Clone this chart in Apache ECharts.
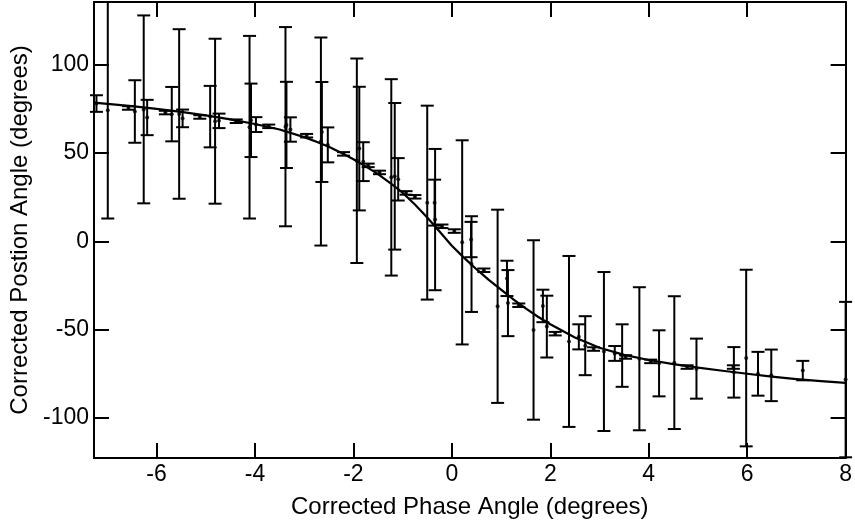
<!DOCTYPE html>
<html>
<head>
<meta charset="utf-8">
<script src="https://cdn.jsdelivr.net/npm/echarts@6/dist/echarts.min.js"></script>
<style>html,body{margin:0;padding:0;background:#fff}#c{width:855px;height:527px}</style>
</head>
<body>
<div id="c"></div>
<script>
// Measured points: phase angle (x), position angle (y), symmetric error (err)
const xVals = [-7.22,-6.99,-6.57,-6.44,-6.26,-6.19,-5.82,-5.69,-5.54,-5.47,-5.12,-4.91,-4.81,-4.73,-4.38,-4.11,-4.08,-3.98,-3.72,-3.38,-3.36,-3.28,-2.95,-2.66,-2.64,-2.52,-2.2,-1.93,-1.88,-1.8,-1.7,-1.47,-1.23,-1.16,-1.09,-0.93,-0.75,-0.5,-0.35,-0.34,-0.2,0.05,0.21,0.39,0.4,0.65,0.93,1.12,1.14,1.36,1.66,1.85,1.93,2.1,2.38,2.58,2.71,2.88,3.09,3.31,3.46,3.53,3.81,4.04,4.21,4.52,4.78,4.97,5.72,5.73,5.98,6.22,6.49,7.13,8.0];
const yVals = [78,74.2,75.5,73.5,74.7,70.1,72.9,72,72.1,69.6,70.4,70.6,68,68.2,68,64.6,68.5,66.1,65.1,64.9,65.9,63.3,59.8,56.5,61.9,54.6,49.5,45.6,52.5,45.1,43,39,36.2,36.8,35.1,27.4,25.2,21.9,21.9,12.3,8.5,5.8,-0.6,1,-12.9,-16.4,-36.8,-21,-35,-36.2,-50.2,-36.6,-48.3,-52.3,-56.7,-54.1,-59.1,-61,-62.4,-63.5,-64.7,-65.5,-66.5,-68,-69.1,-68.7,-71.2,-72.1,-71.2,-74.2,-66.1,-75,-75.9,-73.2,-78.3];
const errVals = [4.7,61.3,1,17.7,53.2,10,1,15.4,48,5,1,17.4,46.7,4.1,1,51.7,20.8,4.2,1,56.4,24.4,6.9,1,58.9,28.3,9.9,1,57.9,35,11,1,1,55.6,41.5,12,1,1,54.9,13,40,1,1,57.8,10,27.1,1,54.7,10,18.7,1,50.8,9.2,17.5,1,48.4,7.1,16.7,1,45,4.2,17.7,1,40.5,1,18.7,37.6,1,17,1,14.3,50,12.4,14.6,5.5,44];

// Fitted curve
const fitX = [-7.27,-7.0,-6.5,-6.0,-5.5,-5.0,-4.5,-4.0,-3.5,-3.0,-2.75,-2.5,-2.25,-2.0,-1.75,-1.5,-1.25,-1.0,-0.75,-0.5,-0.25,0.0,0.25,0.5,0.75,1.0,1.25,1.5,1.75,2.0,2.5,3.0,3.5,4.0,4.5,5.0,5.5,6.0,6.5,7.0,7.5,8.0];
const fitY = [78.5,77.8,76.5,75.0,73.3,71.3,69.0,66.4,63.3,59.0,56.4,53.5,50.2,46.5,42.4,38.0,33.0,27.5,20.8,13.5,5.5,-2.5,-9.4,-15.8,-21.8,-27.4,-32.9,-38.0,-42.7,-47.0,-54.5,-60.3,-64.3,-67.2,-69.5,-71.5,-73.3,-75.0,-76.6,-78.0,-79.2,-80.2];

// Axis ticks
const xTicks = [-6,-4,-2,0,2,4,6,8];
const yTicks = [-100,-50,0,50,100];
const xMin = -7.27, xMax = 8.0, yMin = -122.7, yMax = 135.5;

const FONT = "'Liberation Sans', Arial, sans-serif";
const chart = echarts.init(document.getElementById('c'), null, {renderer:'canvas'});

const axisLine = {show:true, onZero:false, lineStyle:{color:'#000', width:2}};
const tickStyle = {color:'#000', width:2};

function errItem(params, api) {
  const x = api.value(0), y = api.value(1), e = api.value(2);
  const t = api.coord([x, y + e]);
  const b = api.coord([x, y - e]);
  const hw = 6.5;
  const st = {stroke:'#000', lineWidth:2};
  return {type:'group', children:[
    {type:'line', shape:{x1:t[0], y1:t[1], x2:b[0], y2:b[1]}, style:st},
    {type:'line', shape:{x1:t[0]-hw, y1:t[1], x2:t[0]+hw, y2:t[1]}, style:st},
    {type:'line', shape:{x1:b[0]-hw, y1:b[1], x2:b[0]+hw, y2:b[1]}, style:st}
  ]};
}

const pts = xVals.map((x,i)=>[x, yVals[i], errVals[i]]);
const fit = fitX.map((x,i)=>[x, fitY[i]]);

chart.setOption({
  animation:false,
  backgroundColor:'#fff',
  grid:{left:94, right:4, top:2, bottom:69, containLabel:false},
  xAxis:[{
    type:'value', position:'bottom', min:xMin, max:xMax,
    axisLine:axisLine,
    axisTick:{show:true, inside:true, length:15, lineStyle:tickStyle, customValues:xTicks},
    axisLabel:{show:true, customValues:xTicks, color:'#000', fontSize:23, fontFamily:FONT, margin:5},
    splitLine:{show:false},
    name:'Corrected Phase Angle (degrees)', nameLocation:'middle', nameGap:37,
    nameTextStyle:{color:'#000', fontSize:24, fontFamily:FONT}
  },{
    type:'value', position:'top', min:xMin, max:xMax,
    axisLine:axisLine,
    axisTick:{show:true, inside:true, length:15, lineStyle:tickStyle, customValues:xTicks},
    axisLabel:{show:false}, splitLine:{show:false}
  }],
  yAxis:[{
    type:'value', position:'left', min:yMin, max:yMax,
    axisLine:axisLine,
    axisTick:{show:true, inside:true, length:15, lineStyle:tickStyle, customValues:yTicks},
    axisLabel:{show:true, customValues:yTicks, color:'#000', fontSize:23, fontFamily:FONT, margin:5},
    splitLine:{show:false},
    name:'Corrected Postion Angle (degrees)', nameLocation:'middle', nameGap:60,
    nameTextStyle:{color:'#000', fontSize:24, fontFamily:FONT}
  },{
    type:'value', position:'right', min:yMin, max:yMax,
    axisLine:axisLine,
    axisTick:{show:true, inside:true, length:15, lineStyle:tickStyle, customValues:yTicks},
    axisLabel:{show:false}, splitLine:{show:false}
  }],
  series:[
    {type:'custom', renderItem:errItem, data:pts, clip:false, xAxisIndex:0, yAxisIndex:0, z:3},
    {type:'scatter', data:pts.map(p=>[p[0],p[1]]), symbol:'circle', symbolSize:4, itemStyle:{color:'#000'}, clip:false, z:4},
    {type:'line', data:fit, smooth:false, showSymbol:false, symbol:'none', clip:true,
     lineStyle:{color:'#000', width:2.2, join:'round'}, z:5}
  ]
});
</script>
</body>
</html>
